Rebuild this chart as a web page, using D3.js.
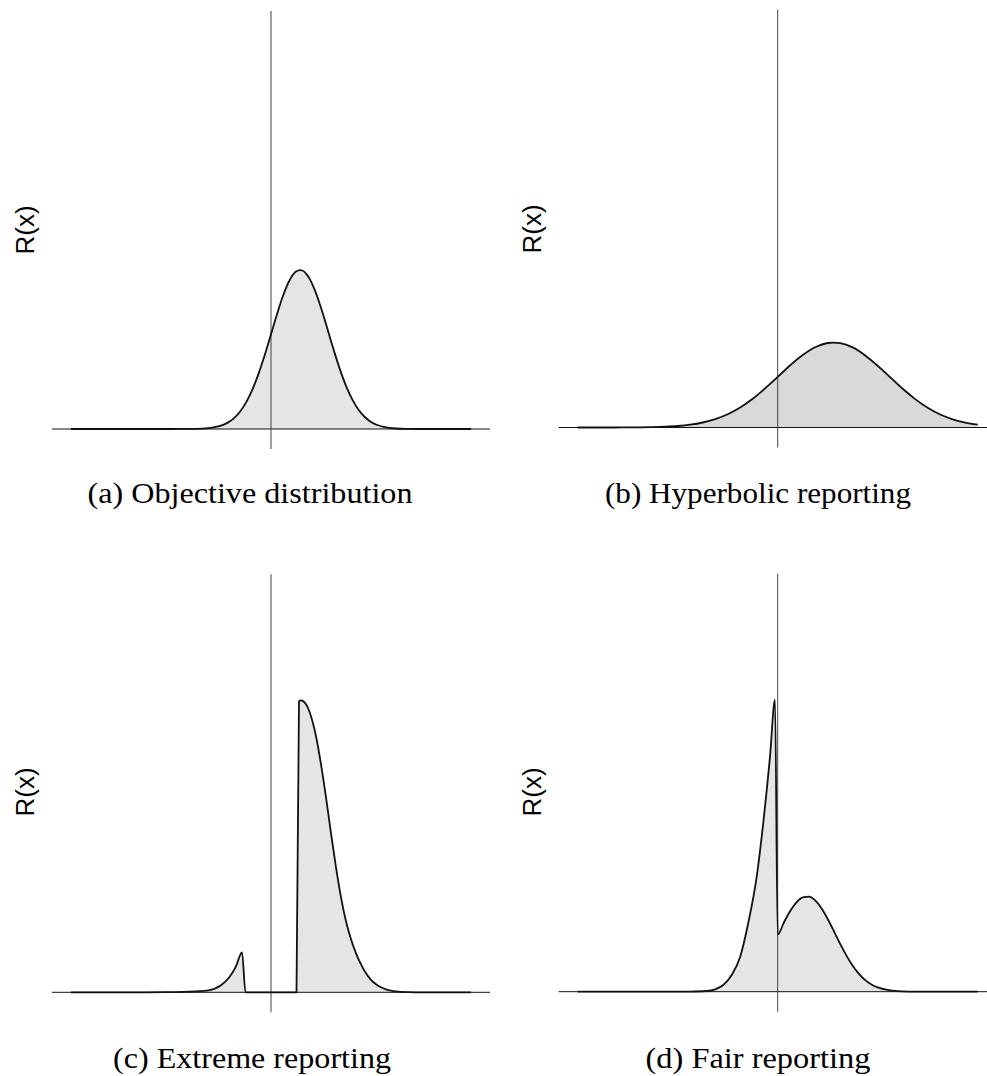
<!DOCTYPE html>
<html>
<head>
<meta charset="utf-8">
<script src="https://cdn.jsdelivr.net/npm/d3@7"></script>
<style>
  body { margin: 0; background: #fff; }
  svg { display: block; }
</style>
</head>
<body>
<div id="myChart"></div>
<script>
let width = 987
let height = 1076

// (a) objective distribution
const objectiveX = [-4, -3.5, -3, -2.5, -2, -1.75, -1.5, -1.375, -1.25, -1.125, -1, -0.875, -0.75,
  -0.625, -0.5, -0.375, -0.25, -0.125, 0, 0.125, 0.25, 0.375, 0.5, 0.625, 0.75, 0.875, 1,
  1.125, 1.25, 1.375, 1.5, 1.625, 1.75, 1.875, 2, 2.125, 2.25, 2.5, 2.75, 3, 3.5, 4]
const objectiveY = [0, 0, 0, 0, 0, 0.001, 0.002, 0.004, 0.009, 0.018, 0.034, 0.061, 0.104,
  0.170, 0.264, 0.391, 0.551, 0.740, 0.947, 1.156, 1.345, 1.490, 1.574, 1.585, 1.521, 1.391, 1.212,
  1.007, 0.797, 0.601, 0.432, 0.296, 0.193, 0.120, 0.071, 0.040, 0.022, 0.005, 0.001, 0, 0, 0]

// (b) hyperbolic reporting
const hyperbolicX = [-4, -3.75, -3.5, -3.25, -3, -2.75, -2.5, -2.25, -2, -1.75, -1.5, -1.25, -1,
  -0.75, -0.5, -0.25, 0, 0.25, 0.5, 0.75, 1, 1.25, 1.5, 1.75, 2, 2.25, 2.5, 2.75, 3,
  3.25, 3.5, 3.75, 4]
const hyperbolicY = [0, 0, 0, 0, 0.001, 0.002, 0.004, 0.008, 0.015, 0.028, 0.050, 0.084, 0.133,
  0.200, 0.287, 0.392, 0.506, 0.622, 0.725, 0.803, 0.845, 0.844, 0.801, 0.721, 0.617, 0.502, 0.387, 0.284, 0.197,
  0.130, 0.082, 0.049, 0.028]

// (c) extreme reporting
const extremeX = [-4, -3.5, -3, -2.5, -2, -1.75, -1.5, -1.25, -1, -0.85, -0.7, -0.58, -0.51,
  0.51, 0.56, 0.6, 0.7, 0.8, 0.9, 1, 1.1, 1.2, 1.3, 1.4, 1.5, 1.6, 1.7, 1.8, 1.9, 2, 2.1,
  2.2, 2.3, 2.4, 2.5, 2.75, 3, 3.5, 4]
const extremeY = [0, 0, 0, 0, 0.002, 0.004, 0.01, 0.02, 0.07, 0.14, 0.26, 0.40, 0,
  0, 2.91, 2.92, 2.88, 2.76, 2.56, 2.28, 1.95, 1.59, 1.25, 0.95, 0.71, 0.53, 0.39, 0.28, 0.19, 0.125, 0.08,
  0.05, 0.03, 0.017, 0.009, 0.002, 0, 0, 0]

// (d) fair reporting
const fairX = [-4, -3.5, -3, -2.5, -2, -1.75, -1.42, -1.25, -1.09, -0.92, -0.75, -0.59, -0.42,
  -0.29, -0.154, -0.054, 0, 0.125, 0.25, 0.375, 0.5, 0.625, 0.75, 0.875, 1, 1.125, 1.25, 1.375,
  1.5, 1.625, 1.75, 1.875, 2, 2.25, 2.5, 2.75, 3, 3.5, 4]
const fairY = [0, 0, 0, 0, 0, 0.001, 0.007, 0.024, 0.067, 0.167, 0.35, 0.684, 1.15,
  1.684, 2.35, 2.92, 0.57, 0.694, 0.807, 0.894, 0.944, 0.951, 0.913, 0.835, 0.727, 0.604, 0.478, 0.361,
  0.259, 0.178, 0.116, 0.072, 0.043, 0.013, 0.003, 0, 0, 0, 0]

const captions = ["(a) Objective distribution", "(b) Hyperbolic reporting",
  "(c) Extreme reporting", "(d) Fair reporting"]
const yLabel = "R(x)"

let panels = [
  { xs: objectiveX, ys: objectiveY, x0: 271, base: 429, fill: "#e5e5e5", curve: d3.curveCatmullRom,
    lab: [34, 230], cap: [250, 503, 325] },
  { xs: hyperbolicX, ys: hyperbolicY, x0: 777.7, base: 427.5, fill: "#d9d9d9", curve: d3.curveCatmullRom,
    lab: [540.5, 229], cap: [758, 503, 306] },
  { xs: extremeX, ys: extremeY, x0: 271, base: 992.3, fill: "#e5e5e5", curve: d3.curveMonotoneX,
    lab: [34, 792], cap: [252, 1068, 278] },
  { xs: fairX, ys: fairY, x0: 777.7, base: 991.7, fill: "#e5e5e5", curve: d3.curveMonotoneX,
    lab: [540.5, 792], cap: [758, 1068, 225] }
]

let svg = d3.select("#myChart")
  .append("svg")
  .attr("width", width)
  .attr("height", height)

svg.append("rect")
  .attr("width", width)
  .attr("height", height)
  .attr("fill", "white")

panels.forEach((p, i) => {
  let x = d3.scaleLinear().domain([-4, 4]).range([p.x0 - 200, p.x0 + 200])
  let y = d3.scaleLinear().domain([0, 4.18]).range([p.base, p.base - 418])
  let pts = p.xs.map((v, j) => [v, p.ys[j]])

  let g = svg.append("g")

  let area = d3.area()
    .x(d => x(d[0]))
    .y0(y(0))
    .y1(d => y(d[1]))
    .curve(p.curve)

  let line = d3.line()
    .x(d => x(d[0]))
    .y(d => y(d[1]))
    .curve(p.curve)

  g.append("path")
    .attr("d", area(pts))
    .attr("fill", p.fill)

  // baseline
  g.append("line")
    .attr("x1", x(-4.38))
    .attr("x2", x(4.38))
    .attr("y1", y(0))
    .attr("y2", y(0))
    .attr("stroke", "#111")
    .attr("stroke-width", 1)

  // zero line
  g.append("line")
    .attr("x1", x(0))
    .attr("x2", x(0))
    .attr("y1", y(-0.2))
    .attr("y2", y(4.18))
    .attr("stroke", "#444")
    .attr("stroke-width", 1)

  g.append("path")
    .attr("d", line(pts))
    .attr("fill", "none")
    .attr("stroke", "#111")
    .attr("stroke-width", 1.8)
    .attr("stroke-linejoin", "round")

  g.append("text")
    .attr("transform", `translate(${p.lab[0]},${p.lab[1]}) rotate(-90)`)
    .attr("text-anchor", "middle")
    .style("font-family", "'Liberation Sans', Arial, sans-serif")
    .style("font-size", "26px")
    .text(yLabel)

  g.append("text")
    .attr("x", p.cap[0])
    .attr("y", p.cap[1])
    .attr("text-anchor", "middle")
    .attr("textLength", p.cap[2])
    .attr("lengthAdjust", "spacingAndGlyphs")
    .style("font-family", "'Liberation Serif', 'Times New Roman', serif")
    .style("font-size", "29px")
    .text(captions[i])
})
</script>
</body>
</html>
